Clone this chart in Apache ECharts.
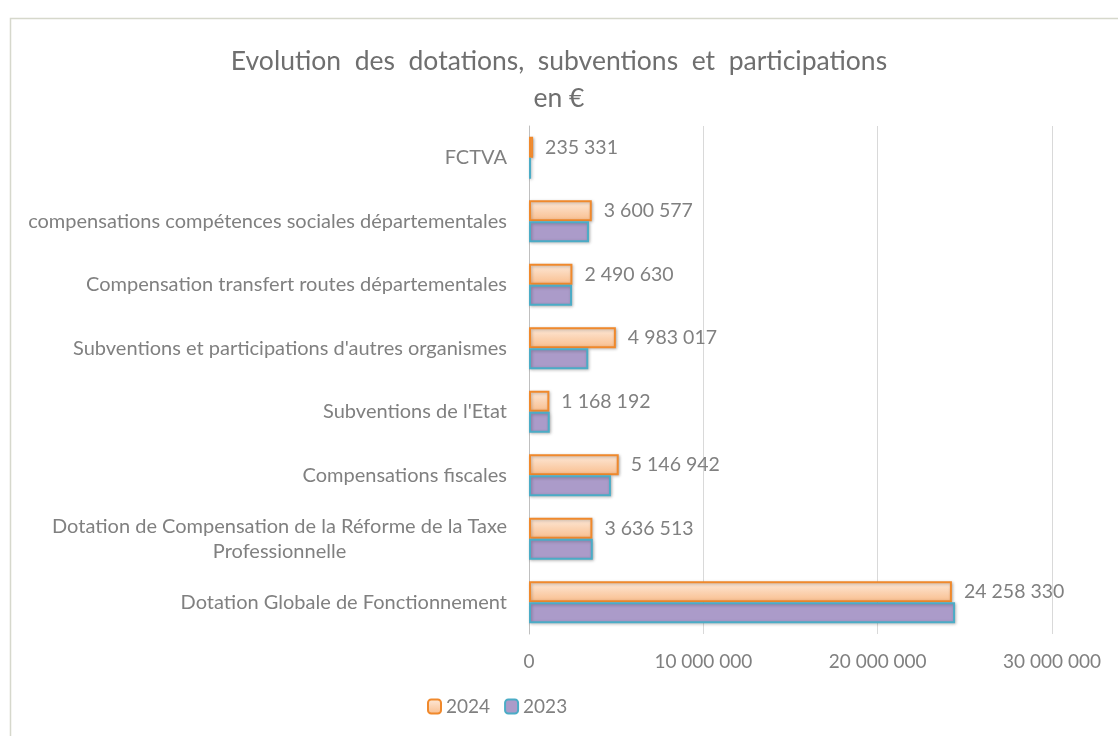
<!DOCTYPE html>
<html>
<head>
<meta charset="utf-8">
<script src="https://cdn.jsdelivr.net/npm/echarts@6/dist/echarts.min.js"></script>
<style>
  html, body { margin: 0; padding: 0; background: #ffffff; }
  #chart { width: 1118px; height: 736px; }
</style>
</head>
<body>
<div id="chart"></div>
<script>
// catégories de haut en bas (axe inversé)
var categories = [
  'FCTVA',
  'compensations compétences sociales départementales',
  'Compensation transfert routes départementales',
  "Subventions et participations d'autres organismes",
  "Subventions de l'Etat",
  'Compensations fiscales',
  'Dotation de Compensation de la Réforme de la Taxe\nProfessionnelle',
  'Dotation Globale de Fonctionnement'
];
var values2024 = [235331, 3600577, 2490630, 4983017, 1168192, 5146942, 3636513, 24258330];
// 2023 : pas d'étiquettes, valeurs lues sur les barres
var values2023 = [120000, 3440000, 2470000, 3400000, 1190000, 4700000, 3660000, 24440000];
var xTicks = [0, 10000000, 20000000, 30000000];

var FONT = 'Lato';
var GREY = '#808080';
var CAT_SIZE = 20;

// 1234567 -> "1 234 567"
function fmt(v) {
  return String(Math.round(v)).replace(/\B(?=(\d{3})+(?!\d))/g, ' ');
}

// pour centrer la 2e ligne sous la 1re
var ctx = document.createElement('canvas').getContext('2d');
function textWidth(s, size) {
  ctx.font = size + 'px ' + FONT;
  return ctx.measureText(s).width;
}

var chart = echarts.init(document.getElementById('chart'));

var option = {
  backgroundColor: '#ffffff',
  textStyle: { fontFamily: FONT },
  title: {
    text: 'Evolution  des  dotations,  subventions  et  participations\nen €',
    left: 'center',
    top: 38,
    textStyle: {
      fontFamily: FONT,
      fontWeight: 'normal',
      fontSize: 26.5,
      color: '#6f6f6f',
      lineHeight: 37
    }
  },
  graphic: [{
    type: 'rect',
    shape: { x: 10.5, y: 18.5, width: 1200, height: 800 },
    style: { fill: 'none', stroke: '#d6d8cc', lineWidth: 1.5 },
    silent: true
  }],
  legend: {
    data: ['2024', '2023'],
    left: 422,
    top: 692,
    itemWidth: 13,
    itemHeight: 14,
    itemGap: 14,
    textStyle: { color: GREY, fontSize: 19, fontFamily: FONT, padding: [0, 0, 0, 0] }
  },
  grid: { left: 529, right: 66, top: 126, bottom: 102 },
  xAxis: {
    type: 'value',
    min: xTicks[0],
    max: xTicks[xTicks.length - 1],
    interval: xTicks[1] - xTicks[0],
    axisLine: { show: false },
    axisTick: { show: false },
    splitLine: { lineStyle: { color: '#d9d9d9', width: 1 } },
    axisLabel: {
      color: GREY,
      fontSize: 19,
      margin: 18,
      formatter: function (v) { return fmt(v); }
    }
  },
  yAxis: {
    type: 'category',
    inverse: true,
    data: categories,
    axisLine: { show: true, lineStyle: { color: '#bfbfbf', width: 1 } },
    axisTick: { show: false },
    axisLabel: {
      color: GREY,
      fontSize: CAT_SIZE,
      margin: 22,
      lineHeight: 25,
      formatter: function (v) {
        if (v.indexOf('\n') > -1) {
          var parts = v.split('\n');
          return '{a|' + parts[0] + '}\n{b|' + parts[1] + '}{p|}';
        }
        return v;
      },
      rich: {
        a: { color: GREY, fontSize: CAT_SIZE, fontFamily: FONT, lineHeight: 25 },
        b: { color: GREY, fontSize: CAT_SIZE, fontFamily: FONT, lineHeight: 25 },
        p: { width: 1, lineHeight: 25 }
      }
    }
  },
  series: [
    {
      name: '2024',
      type: 'bar',
      data: values2024,
      barWidth: 21,
      barGap: '0%',
      itemStyle: {
        color: {
          type: 'linear', x: 0, y: 0, x2: 0, y2: 1,
          colorStops: [
            { offset: 0, color: '#fdeadb' },
            { offset: 1, color: '#f9bd8c' }
          ]
        },
        borderColor: '#f0892c',
        borderWidth: 2,
        shadowColor: 'rgba(0,0,0,0.25)',
        shadowBlur: 3,
        shadowOffsetX: 1,
        shadowOffsetY: 1
      },
      label: {
        show: true,
        position: 'right',
        distance: 12,
        color: GREY,
        fontSize: 19.5,
        fontFamily: FONT,
        formatter: function (p) { return fmt(p.value); }
      }
    },
    {
      name: '2023',
      type: 'bar',
      data: values2023,
      barWidth: 21,
      barGap: '0%',
      itemStyle: {
        color: '#ab9bc9',
        borderColor: '#4bacc6',
        borderWidth: 2,
        shadowColor: 'rgba(0,0,0,0.25)',
        shadowBlur: 3,
        shadowOffsetX: 1,
        shadowOffsetY: 1
      }
    }
  ]
};

// marge droite de la 2e ligne pour la centrer sous la 1re
(function () {
  var parts = categories[6].split('\n');
  var pad = (textWidth(parts[0], CAT_SIZE) - textWidth(parts[1], CAT_SIZE)) / 2;
  option.yAxis.axisLabel.rich.p.width = Math.max(1, pad);
})();

chart.setOption(option);
</script>
</body>
</html>
